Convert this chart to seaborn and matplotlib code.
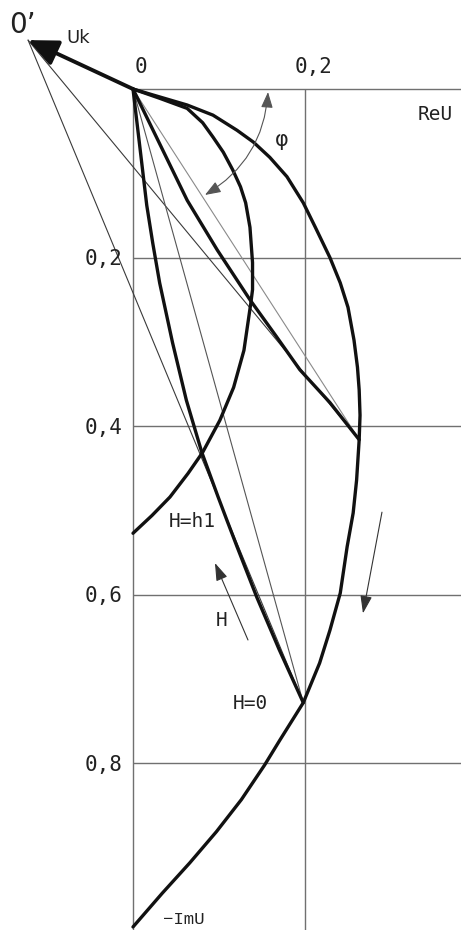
import numpy as np
import pandas as pd
import matplotlib
matplotlib.use("Agg")
import matplotlib.pyplot as plt
import seaborn as sns

# Hodograph of U in the complex plane (ReU to the right, -ImU downward)
outer_re = [0.0, 0.023, 0.063, 0.093, 0.121, 0.140, 0.159, 0.179, 0.198, 0.212,
            0.229, 0.241, 0.250, 0.257, 0.261, 0.263, 0.264, 0.263, 0.260, 0.256,
            0.249, 0.241, 0.229, 0.217, 0.198, 0.171, 0.153, 0.126, 0.097, 0.066,
            0.034, 0.0]
outer_im = [0.0, 0.007, 0.019, 0.031, 0.049, 0.063, 0.081, 0.104, 0.135, 0.164,
            0.200, 0.230, 0.259, 0.298, 0.330, 0.357, 0.387, 0.416, 0.464, 0.503,
            0.543, 0.598, 0.642, 0.681, 0.728, 0.772, 0.802, 0.843, 0.881, 0.918,
            0.954, 0.994]

inner_re = [0.0, 0.031, 0.063, 0.081, 0.093, 0.105, 0.116, 0.125, 0.131, 0.136,
            0.139, 0.139, 0.137, 0.129, 0.117, 0.101, 0.081, 0.064, 0.043, 0.022, 0.0]
inner_im = [0.0, 0.011, 0.023, 0.040, 0.057, 0.075, 0.096, 0.116, 0.135, 0.164,
            0.206, 0.238, 0.254, 0.310, 0.354, 0.393, 0.431, 0.456, 0.484, 0.506, 0.527]

chord_re = [0.0, 0.063, 0.098, 0.136, 0.167, 0.194, 0.229, 0.263]
chord_im = [0.0, 0.132, 0.191, 0.250, 0.294, 0.333, 0.372, 0.416]

h_re = [0.0, 0.008, 0.016, 0.023, 0.031, 0.046, 0.062, 0.080, 0.099, 0.109,
        0.121, 0.144, 0.170, 0.198]
h_im = [0.0, 0.069, 0.138, 0.183, 0.230, 0.301, 0.369, 0.431, 0.484, 0.511,
        0.543, 0.603, 0.665, 0.728]

# Key points
origin = (0.0, 0.0)
o_prime = (-0.122, -0.058)
p_h0 = (0.198, 0.728)
p_corner = (0.263, 0.416)

x_ticks = [0.0, 0.2]
x_tick_labels = ["0", "0,2"]
y_ticks = [0.2, 0.4, 0.6, 0.8]
y_tick_labels = ["0,2", "0,4", "0,6", "0,8"]

XMIN, XMAX = -0.15465, 0.38140
YTOP, YBOT = -0.10558, 0.99763

sns.set_theme(style="white")
plt.rcParams["font.family"] = ["DejaVu Sans"]
plt.rcParams["lines.solid_joinstyle"] = "round"
plt.rcParams["lines.solid_capstyle"] = "round"

fig = plt.figure(figsize=(4.61, 9.30), dpi=100)
ax = fig.add_axes([0, 0, 1, 1])
ax.set_xlim(XMIN, XMAX)
ax.set_ylim(YBOT, YTOP)
ax.axis("off")

grid_c = "#707070"
# axes and grid
ax.hlines(0.0, 0.0, XMAX, color=grid_c, lw=1.0, zorder=1)
ax.vlines(0.0, 0.0, YBOT, color=grid_c, lw=1.0, zorder=1)
ax.vlines(0.2, 0.0, YBOT, color=grid_c, lw=1.0, zorder=1)
ax.hlines(y_ticks, 0.0, XMAX, color=grid_c, lw=1.0, zorder=1)

mono = "DejaVu Sans Mono"
for xv, lab in zip(x_ticks, x_tick_labels):
    ax.text(xv + 0.0095, -0.026, lab, ha="center", va="center",
            fontsize=15, family=mono, color="#222222")
for yv, lab in zip(y_ticks, y_tick_labels):
    ax.text(-0.0337, yv + 0.002, lab, ha="center", va="center",
            fontsize=15, family=mono, color="#222222")

# thin construction rays
rays = pd.DataFrame({
    "re": [o_prime[0], p_h0[0], o_prime[0], p_corner[0],
           origin[0], p_h0[0], origin[0], p_corner[0]],
    "im": [o_prime[1], p_h0[1], o_prime[1], p_corner[1],
           origin[1], p_h0[1], origin[1], p_corner[1]],
    "ray": ["a", "a", "b", "b", "c", "c", "d", "d"],
})
ray_colors = {"a": "#3a3a3a", "b": "#3a3a3a", "c": "#555555", "d": "#8a8a8a"}
for key, grp in rays.groupby("ray"):
    sns.lineplot(data=grp, x="re", y="im", sort=False, estimator=None, ax=ax,
                 color=ray_colors[key], lw=0.8, zorder=2)

# heavy curves
heavy = [(outer_re, outer_im), (inner_re, inner_im),
         (chord_re, chord_im), (h_re, h_im)]
for re_vals, im_vals in heavy:
    df = pd.DataFrame({"re": re_vals, "im": im_vals})
    sns.lineplot(data=df, x="re", y="im", sort=False, estimator=None, ax=ax,
                 color="#111111", lw=2.4, zorder=3)

# Uk vector from 0 to 0'
ax.annotate("", xy=o_prime, xytext=origin,
            arrowprops=dict(arrowstyle="-|>,head_length=1.0,head_width=0.45",
                            lw=2.8, color="#111111", mutation_scale=18,
                            shrinkA=0, shrinkB=0), zorder=4)

# angle phi (double-headed arc)
ax.annotate("", xy=(0.157, 0.0036), xytext=(0.0837, 0.1257),
            arrowprops=dict(arrowstyle="<|-|>,head_length=0.8,head_width=0.3",
                            connectionstyle="arc3,rad=0.26", lw=0.8,
                            color="#555555", mutation_scale=12,
                            shrinkA=0, shrinkB=0), zorder=4)

# direction arrows
ax.annotate("", xy=(0.2674, 0.622), xytext=(0.2895, 0.502),
            arrowprops=dict(arrowstyle="-|>,head_length=0.9,head_width=0.3",
                            lw=0.8, color="#333333", mutation_scale=12,
                            shrinkA=0, shrinkB=0), zorder=4)
ax.annotate("", xy=(0.0953, 0.5623), xytext=(0.1337, 0.6536),
            arrowprops=dict(arrowstyle="-|>,head_length=0.9,head_width=0.3",
                            lw=0.8, color="#333333", mutation_scale=12,
                            shrinkA=0, shrinkB=0), zorder=4)

# labels
ax.text(-0.128, -0.076, "0\u2019", ha="center", va="center", fontsize=20, color="#222222")
ax.text(-0.064, -0.0605, "Uk", ha="center", va="center", fontsize=13, color="#222222")
ax.text(0.352, 0.0297, "ReU", ha="center", va="center", fontsize=14, family=mono, color="#222222")
ax.text(0.173, 0.0605, "\u03c6", ha="center", va="center", fontsize=15, color="#222222")
ax.text(0.0686, 0.5136, "H=h1", ha="center", va="center", fontsize=14, family=mono, color="#222222")
ax.text(0.1035, 0.630, "H", ha="center", va="center", fontsize=14, family=mono, color="#222222")
ax.text(0.136, 0.7295, "H=0", ha="center", va="center", fontsize=14, family=mono, color="#222222")
ax.text(0.0593, 0.9846, "\u2212ImU", ha="center", va="center", fontsize=12.5,
        family="Liberation Mono", color="#222222")

fig.savefig("out.png", dpi=100, facecolor="white")
